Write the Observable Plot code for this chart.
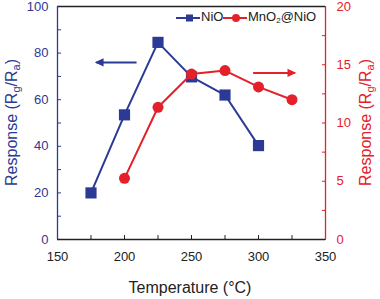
<!DOCTYPE html>
<html><head><meta charset="utf-8">
<script src="https://cdn.jsdelivr.net/npm/d3@7"></script>
<script src="https://cdn.jsdelivr.net/npm/@observablehq/plot@0.6"></script>
<style>body{margin:0;background:#fff;font-family:"Liberation Sans",Arial,sans-serif}</style>
</head><body><div id="chart"></div>
<script>
const blue = "#2B3A94";
const red = "#E4202A";
const nioTemps = [175, 200, 225, 250, 275, 300];
const nioResponse = [20, 53.5, 84.6, 69.8, 62, 40.3];
const mnoTemps = [200, 225, 250, 275, 300, 325];
const mnoResponse = [5.25, 11.35, 14.2, 14.5, 13.1, 12.0];
const xTicks = [150, 200, 250, 300, 350];
const xMinor = [150, 175, 200, 225, 250, 275, 300, 325, 350];
const leftTicks = [0, 20, 40, 60, 80, 100];
const leftMinor = [0, 10, 20, 30, 40, 50, 60, 70, 80, 90, 100];
const rightTicks = [0, 5, 10, 15, 20];
const rightMinor = [0, 2.5, 5, 7.5, 10, 12.5, 15, 17.5, 20];
const xDomain = [150, 350];
const leftDomain = [0, 100];
const rightDomain = [0, 20];
const k = leftDomain[1] / rightDomain[1];
// annotation arrows: [x1, x2, y(left scale)]
const leftArrow = {x1: 209, x2: 179, y: 76};
const rightArrow = {x1: 296, x2: 327, y: 14.3 * k};

const nio = nioTemps.map((t, i) => ({t, v: nioResponse[i]}));
const mno = mnoTemps.map((t, i) => ({t, v: mnoResponse[i] * k}));

function triMarker(color) {
  const m = d3.create("svg:marker")
    .attr("viewBox", "0 -5 10 10")
    .attr("markerWidth", 4.5).attr("markerHeight", 4.5)
    .attr("refX", 8).attr("orient", "auto")
    .attr("markerUnits", "strokeWidth");
  m.append("path").attr("d", "M0,-4.5L10,0L0,4.5Z").attr("fill", color).attr("stroke", "none");
  return m.node();
}

const plot = Plot.plot({
  width: 380, height: 299,
  marginLeft: 57, marginRight: 55, marginTop: 6, marginBottom: 60,
  style: {fontFamily: '"Liberation Sans", Arial, sans-serif', fontSize: "13px", background: "#fff"},
  x: {domain: xDomain, label: null},
  y: {domain: leftDomain, label: null},
  marks: [
    Plot.axisX(xMinor, {tickSize: -4, tickFormat: () => "", stroke: "#222", label: null}),
    Plot.axisX(xTicks, {tickSize: 0, tickPadding: 12, fill: "#222", fontSize: 13, label: null}),
    Plot.axisY(leftMinor, {anchor: "left", tickSize: -4, tickFormat: () => "", stroke: blue, label: null}),
    Plot.axisY(leftTicks, {anchor: "left", tickSize: 0, tickPadding: 9, fill: blue, fontSize: 13, label: null}),
    Plot.axisY(rightMinor.map(d => d * k), {anchor: "right", tickSize: -4, tickFormat: () => "", stroke: red, label: null}),
    Plot.axisY(rightTicks.map(d => d * k), {anchor: "right", tickSize: 0, tickPadding: 11, tickFormat: d => d / k, fill: red, fontSize: 13, label: null}),
    Plot.ruleY([leftDomain[1]], {stroke: "#222", strokeWidth: 1.3}),
    Plot.ruleY([leftDomain[0]], {stroke: "#222", strokeWidth: 1.3}),
    Plot.ruleX([xDomain[0]], {stroke: blue, strokeWidth: 1.3}),
    Plot.ruleX([xDomain[1]], {stroke: red, strokeWidth: 1.3}),
    Plot.line(nio, {x: "t", y: "v", stroke: blue, strokeWidth: 2}),
    Plot.dot(nio, {x: "t", y: "v", symbol: "square", r: 6.3, fill: blue, stroke: "none"}),
    Plot.line(mno, {x: "t", y: "v", stroke: red, strokeWidth: 2}),
    Plot.dot(mno, {x: "t", y: "v", r: 5.5, fill: red, stroke: "none"}),
    Plot.link([leftArrow], {x1: "x1", x2: "x2", y1: "y", y2: "y", stroke: blue, strokeWidth: 2, markerEnd: () => triMarker(blue)}),
    Plot.link([rightArrow], {x1: "x1", x2: "x2", y1: "y", y2: "y", stroke: red, strokeWidth: 2, markerEnd: () => triMarker(red)})
  ]
});
document.getElementById("chart").appendChild(plot);

const svg = d3.select(plot);
const font = '"Liberation Sans", Arial, sans-serif';
function respLabel(x, color) {
  const t = svg.append("text")
    .attr("transform", `translate(${x},${(6 + 239) / 2}) rotate(-90)`)
    .attr("text-anchor", "middle").attr("dominant-baseline", "middle")
    .attr("fill", color).attr("font-size", 16).attr("font-family", font);
  t.append("tspan").text("Response (R");
  t.append("tspan").text("g").attr("font-size", 11).attr("dy", 4);
  t.append("tspan").text("/R").attr("dy", -4);
  t.append("tspan").text("a").attr("font-size", 11).attr("dy", 4);
  t.append("tspan").text(")").attr("dy", -4);
}
respLabel(13, blue);
respLabel(367, red);
svg.append("text").attr("x", 190).attr("y", 289)
  .attr("text-anchor", "middle").attr("dominant-baseline", "middle")
  .attr("fill", "#222").attr("font-size", 16).attr("font-family", font)
  .text("Temperature (°C)");

// legend
const legendItems = [
  {name: ["NiO"], color: blue, shape: "square", x: 176},
  {name: ["MnO", "2", "@NiO"], color: red, shape: "circle", x: 223}
];
const ly = 18;
legendItems.forEach(it => {
  const g = svg.append("g");
  g.append("line").attr("x1", it.x).attr("x2", it.x + 24).attr("y1", ly).attr("y2", ly)
    .attr("stroke", it.color).attr("stroke-width", 2);
  if (it.shape === "square") g.append("rect").attr("x", it.x + 10).attr("y", ly - 3.5).attr("width", 7).attr("height", 7).attr("fill", it.color);
  else g.append("circle").attr("cx", it.x + 13).attr("cy", ly).attr("r", 4).attr("fill", it.color);
  const t = g.append("text").attr("x", it.x + 25).attr("y", ly).attr("dominant-baseline", "middle")
    .attr("text-anchor", "start")
    .attr("font-size", 13).attr("font-family", font).attr("fill", "#222");
  t.append("tspan").text(it.name[0]);
  if (it.name.length > 1) {
    t.append("tspan").text(it.name[1]).attr("font-size", 8).attr("dy", 3);
    t.append("tspan").text(it.name[2]).attr("dy", -3);
  }
});
</script></body></html>
